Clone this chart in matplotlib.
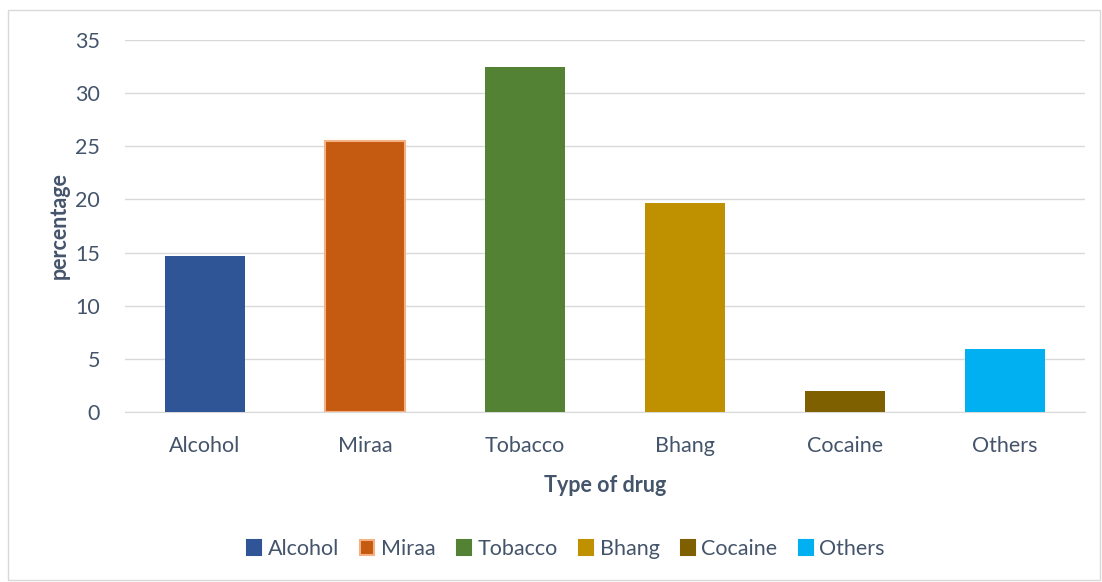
import matplotlib.pyplot as plt
from matplotlib.patches import Rectangle

drugs = ["Alcohol", "Miraa", "Tobacco", "Bhang", "Cocaine", "Others"]
percent = [14.7, 25.5, 32.5, 19.7, 2.0, 5.9]
bar_colors = ["#2F5597", "#C55A11", "#548235", "#BF9000", "#7F6000", "#00B0F0"]
y_ticks = [0, 5, 10, 15, 20, 25, 30, 35]

TEXT = "#44546A"
plt.rcParams['font.family'] = ['Lato', 'DejaVu Sans']

fig = plt.figure(figsize=(11.02, 5.82), dpi=100, facecolor='w')
# outer chart frame
fig.patches.append(Rectangle((8 / 1102, 2 / 582), 1092 / 1102, 570 / 582, transform=fig.transFigure,
                             fill=False, edgecolor="#D9D9D9", lw=1))

ax = fig.add_axes([125 / 1102, 170 / 582, 960 / 1102, 372 / 582])
x = range(len(drugs))
bars = ax.bar(x, percent, width=0.5, color=bar_colors, zorder=3)
bars[1].set_edgecolor("#F4B183")
bars[1].set_linewidth(1.5)

ax.set_xlim(-0.5, len(drugs) - 0.5)
ax.set_ylim(0, 35)
ax.set_yticks(y_ticks)
ax.set_xticks(list(x))
ax.set_xticklabels(drugs)
ax.tick_params(axis='both', length=0, labelsize=15.5, colors=TEXT)
ax.tick_params(axis='x', pad=17)
ax.tick_params(axis='y', pad=18)
ax.grid(axis='y', color="#D9D9D9", lw=1, zorder=0)
for spine in ('top', 'right', 'left'):
	ax.spines[spine].set_visible(False)
ax.spines['bottom'].set_color("#D9D9D9")

ax.set_xlabel("Type of drug", fontsize=15.5, fontweight='bold', color=TEXT, labelpad=14)
ax.set_ylabel("percentage", fontsize=15.5, fontweight='bold', color=TEXT, labelpad=4)

handles = []
for i, name in enumerate(drugs):
	ec = "#F4B183" if name == "Miraa" else bar_colors[i]
	handles.append(Rectangle((0, 0), 1, 1, facecolor=bar_colors[i], edgecolor=ec, lw=1.5))
fig.legend(handles, drugs, loc='center', bbox_to_anchor=(566 / 1102, 1 - 549 / 582), ncol=6,
           frameon=False, fontsize=15.5, labelcolor=TEXT, handlelength=0.65, handleheight=0.65,
           handletextpad=0.3, columnspacing=1.0)

plt.savefig("out.png", dpi=100)
